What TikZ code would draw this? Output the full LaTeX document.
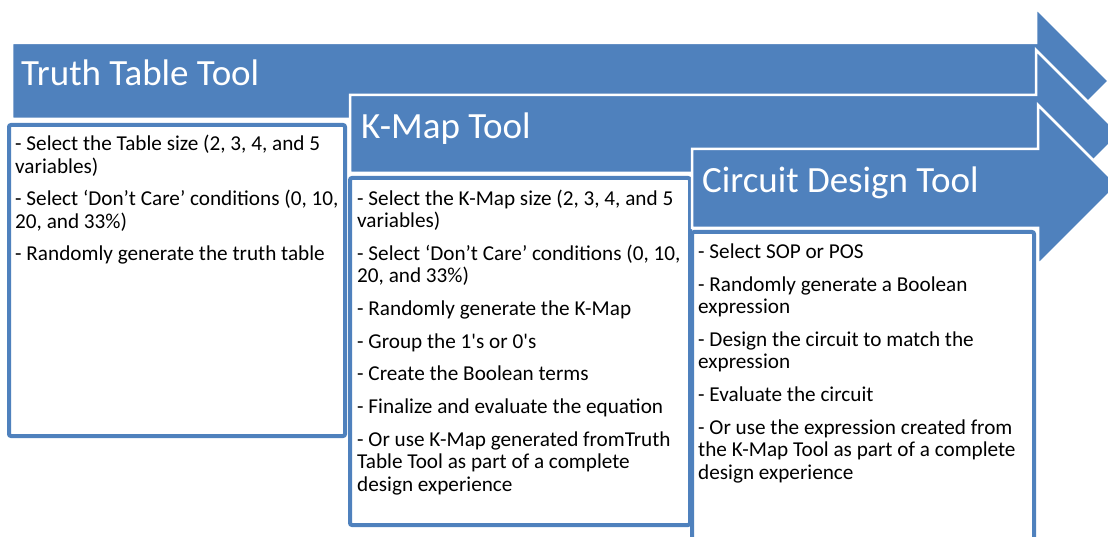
\documentclass[tikz,border=0pt]{standalone}
\usepackage{fontspec}
\setmainfont{Carlito}
\definecolor{stageblue}{HTML}{4F81BD}
\tikzset{
	stagearrow/.style={fill=stageblue,draw=white,line width=2.5pt,line join=miter},
	stepbox/.style={draw=stageblue,fill=white,line width=4pt,rounded corners=2pt},
	stagetitle/.style={anchor=base west,inner sep=0pt,text=white,font=\fontsize{37}{44}\selectfont},
	steplist/.style={anchor=base west,inner sep=0pt,align=left,font=\fontsize{21.2}{22.3}\selectfont}
}

\begin{document}
\begin{tikzpicture}[x=1pt,y=-1pt]
		\useasboundingbox (0,0) rectangle (1108,537);
		\clip (0,0) rectangle (1108,537);
		\draw[stagearrow](12,43)--(1036,43)--(1036,8)--(1109,81)--(1036,154)--(1036,119)--(12,119)--cycle;
		\draw[stepbox](9,125) rectangle (345,436);
		\draw[stagearrow](350,95)--(1036,95)--(1036,50)--(1120,134)--(1036,218)--(1036,173)--(350,173)--cycle;
		\draw[stepbox](350,178) rectangle (690,525);
		\draw[stagearrow](692,149)--(1038,149)--(1038,105)--(1118,185)--(1038,265)--(1038,228)--(692,228)--cycle;
		\draw[stepbox](692,232) rectangle (1034,570);
		\node[stagetitle] (tt) at (21,86) {Truth Table Tool};
		\node[stagetitle] (km) at (361,139) {K-Map Tool};
		\node[stagetitle] (cd) at (702,193) {Circuit Design Tool};
		\node[steplist] (ttlist) at (15,261) {- Select the Table size (2, 3, 4, and 5\\variables)\\[10.5pt]- Select ‘Don’t Care’ conditions (0, 10,\\20, and 33\%)\\[10.5pt]- Randomly generate the truth table};
		\node[steplist] (kmlist) at (357,491) {- Select the K-Map size (2, 3, 4, and 5\\variables)\\[10.5pt]- Select ‘Don’t Care’ conditions (0, 10,\\20, and 33\%)\\[10.5pt]- Randomly generate the K-Map\\[10.5pt]- Group the 1\textquotesingle s or 0\textquotesingle s\\[10.5pt]- Create the Boolean terms\\[10.5pt]- Finalize and evaluate the equation\\[10.5pt]- Or use K-Map generated fromTruth\\Table Tool as part of a complete\\design experience};
		\node[steplist] (cdlist) at (698,479) {- Select SOP or POS\\[10.5pt]- Randomly generate a Boolean\\expression\\[10.5pt]- Design the circuit to match the\\expression\\[10.5pt]- Evaluate the circuit\\[10.5pt]- Or use the expression created from\\the K-Map Tool as part of a complete\\design experience};
	\end{tikzpicture}
\end{document}
